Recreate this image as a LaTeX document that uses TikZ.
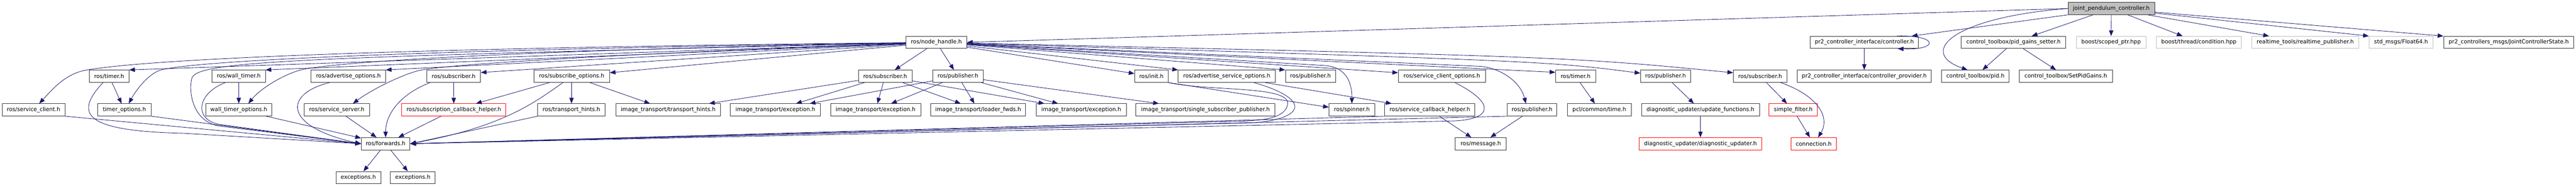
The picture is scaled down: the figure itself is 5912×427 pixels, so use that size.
\documentclass[tikz,border=0pt]{standalone}
\usepackage{fontspec}
\setmainfont{DejaVu Sans}
\usetikzlibrary{arrows.meta}
\definecolor{edgeblue}{HTML}{191970}
\definecolor{nodocgrey}{HTML}{BFBFBF}
\begin{document}
\begin{tikzpicture}[x=1pt,y=-1pt,>={Triangle[length=13pt,width=10pt]},
  hdr/.style={draw=black!80,line width=1pt,fill=white,minimum height=28pt,inner sep=0pt,font=\fontsize{12.7}{15}\selectfont},
  mainhdr/.style={hdr,fill=nodocgrey},
  nodochdr/.style={hdr,draw=nodocgrey},
  parthdr/.style={hdr,draw=red},
  dep/.style={->,draw=edgeblue,line width=1pt}]
\useasboundingbox (0,0) rectangle (5912,427);
\node[mainhdr,minimum width=199pt] (jpc) at (4845.5,19.5) {joint\_pendulum\_controller.h};
\node[hdr,minimum width=140pt] (nh) at (2149,97) {ros/node\_handle.h};
\node[hdr,minimum width=249pt] (ctrl) at (4278.5,97) {pr2\_controller\_interface/controller.h};
\node[hdr,minimum width=240pt] (pgs) at (4621,97) {control\_toolbox/pid\_gains\_setter.h};
\node[nodochdr,minimum width=160pt] (scp) at (4845,97) {boost/scoped\_ptr.hpp};
\node[nodochdr,minimum width=195pt] (cond) at (5046.5,97) {boost/thread/condition.hpp};
\node[nodochdr,minimum width=247pt] (rtp) at (5290.5,97) {realtime\_tools/realtime\_publisher.h};
\node[nodochdr,minimum width=147pt] (f64) at (5510.5,97) {std\_msgs/Float64.h};
\node[hdr,minimum width=299pt] (jcs) at (5757.5,97) {pr2\_controllers\_msgs/JointControllerState.h};
\node[hdr,minimum width=91pt] (tmr) at (250.5,174.5) {ros/timer.h};
\node[hdr,minimum width=122pt] (wtmr) at (548,174.5) {ros/wall\_timer.h};
\node[hdr,minimum width=171pt] (advo) at (799.5,174.5) {ros/advertise\_options.h};
\node[hdr,minimum width=124pt] (sub) at (1041,174.5) {ros/subscriber.h};
\node[hdr,minimum width=174pt] (subo) at (1312,174.5) {ros/subscribe\_options.h};
\node[hdr,minimum width=123pt] (itsub) at (2031.5,174.5) {ros/subscriber.h};
\node[hdr,minimum width=115pt] (itpub) at (2198.5,174.5) {ros/publisher.h};
\node[hdr,minimum width=77pt] (init) at (2642.5,174.5) {ros/init.h};
\node[hdr,minimum width=223pt] (advso) at (2815.5,174.5) {ros/advertise\_service\_options.h};
\node[hdr,minimum width=115pt] (pub) at (3007.5,174.5) {ros/publisher.h};
\node[hdr,minimum width=200pt] (srvco) at (3309,174.5) {ros/service\_client\_options.h};
\node[hdr,minimum width=92pt] (pcltmr) at (3616,174.5) {ros/timer.h};
\node[hdr,minimum width=115pt] (dupub) at (3822.5,174.5) {ros/publisher.h};
\node[hdr,minimum width=123pt] (mfsub) at (4039.5,174.5) {ros/subscriber.h};
\node[hdr,minimum width=307pt] (prov) at (4278.5,174.5) {pr2\_controller\_interface/controller\_provider.h};
\node[hdr,minimum width=155pt] (pid) at (4533.5,174.5) {control\_toolbox/pid.h};
\node[hdr,minimum width=214pt] (spg) at (4741,174.5) {control\_toolbox/SetPidGains.h};
\node[hdr,minimum width=144pt] (srvc) at (77,251.5) {ros/service\_client.h};
\node[hdr,minimum width=123pt] (tmro) at (285.5,251.5) {timer\_options.h};
\node[hdr,minimum width=152pt] (wtmro) at (548,251.5) {wall\_timer\_options.h};
\node[hdr,minimum width=150pt] (srvs) at (773,251.5) {ros/service\_server.h};
\node[parthdr,minimum width=239pt] (scbh) at (1041.5,251.5) {ros/subscription\_callback\_helper.h};
\node[hdr,minimum width=155pt] (th) at (1311.5,251.5) {ros/transport\_hints.h};
\node[hdr,minimum width=241pt] (itth) at (1533.5,251.5) {image\_transport/transport\_hints.h};
\node[hdr,minimum width=207pt] (itexa) at (1779.5,251.5) {image\_transport/exception.h};
\node[hdr,minimum width=207pt] (itexb) at (2009.5,251.5) {image\_transport/exception.h};
\node[hdr,minimum width=218pt] (itlf) at (2245,251.5) {image\_transport/loader\_fwds.h};
\node[hdr,minimum width=207pt] (itexc) at (2481.5,251.5) {image\_transport/exception.h};
\node[hdr,minimum width=319pt] (itssp) at (2766.5,251.5) {image\_transport/single\_subscriber\_publisher.h};
\node[hdr,minimum width=105pt] (spin) at (3102.5,251.5) {ros/spinner.h};
\node[hdr,minimum width=207pt] (srvcb) at (3281.5,251.5) {ros/service\_callback\_helper.h};
\node[hdr,minimum width=114pt] (pubb) at (3516,251.5) {ros/publisher.h};
\node[hdr,minimum width=147pt] (time) at (3670.5,251.5) {pcl/common/time.h};
\node[hdr,minimum width=271pt] (upd) at (3902.5,251.5) {diagnostic\_updater/update\_functions.h};
\node[parthdr,minimum width=111pt] (sflt) at (4115.5,251.5) {simple\_filter.h};
\node[hdr,minimum width=112pt] (fwd) at (885,329) {ros/forwards.h};
\node[hdr,minimum width=117pt] (msg) at (3398.5,329) {ros/message.h};
\node[parthdr,minimum width=281pt] (diag) at (3902.5,329) {diagnostic\_updater/diagnostic\_updater.h};
\node[parthdr,minimum width=105pt] (conn) at (4162.5,329) {connection.h};
\node[hdr,minimum width=103pt] (exa) at (822.5,406.5) {exceptions.h};
\node[hdr,minimum width=103pt] (exb) at (947.5,406.5) {exceptions.h};
\draw[dep] (jpc.west) -- (nh.east);
\draw[dep] (jpc.south west) -- ([xshift=-16pt]ctrl.north east);
\draw[dep] (jpc.west) .. controls (4480,40) and (4400,120) .. ([xshift=-18pt]pid.north);
\draw[dep] (jpc) -- (pgs); \draw[dep] (jpc) -- (scp); \draw[dep] (jpc) -- (cond); \draw[dep] (jpc) -- (rtp);
\draw[dep] (jpc) -- (f64.north west); \draw[dep] (jpc) -- (jcs.north west);
\draw[dep] (pgs) -- (pid); \draw[dep] (pgs) -- (spg);
\draw[dep] (ctrl) -- (prov);
\draw[dep] ([xshift=-50pt]ctrl.north east) .. controls (4450,80) and (4450,115) .. ([xshift=-48pt]ctrl.south east);
\draw[dep] (nh) .. controls (900,110) and (350,135) .. (200,160) .. controls (150,168) and (120,205) .. ([xshift=13pt]srvc.north);
\draw[dep] (nh) -- (tmr.north east);
\draw[dep] (nh) .. controls (900,115) and (450,140) .. (370,160) .. controls (340,168) and (310,210) .. ([xshift=10pt]tmro.north);
\draw[dep] (nh) .. controls (650,132) and (450,140) .. (440,180) .. controls (433,208) and (440,275) .. (500,288) -- (fwd.west);
\draw[dep] (nh) -- (wtmr.north east);
\draw[dep] (nh) .. controls (1200,115) and (800,140) .. (700,158) .. controls (660,165) and (600,200) .. ([xshift=22pt]wtmro.north);
\draw[dep] (nh) -- (advo.north east);
\draw[dep] (nh) .. controls (1500,120) and (1050,145) .. (968,160) .. controls (935,166) and (860,200) .. ([xshift=37pt]srvs.north);
\draw[dep] (nh) -- ([yshift=8.5pt]sub.east); \draw[dep] (nh) -- (subo);
\draw[dep] (nh) -- (itsub); \draw[dep] (nh) -- (itpub);
\draw[dep] (nh) -- (init); \draw[dep] (nh) -- (advso.north west); \draw[dep] (nh) -- (pub.north west);
\draw[dep] (nh) -- (3040,150) .. controls (3090,153) and (3103,190) .. (spin.north);
\draw[dep] (nh) -- ([yshift=8pt]srvco.west);
\draw[dep] (nh) -- (3400,152) .. controls (3450,158) and (3490,190) .. ([xshift=-14pt]pubb.north);
\draw[dep] (nh) -- ([yshift=9pt]pcltmr.west);
\draw[dep] (nh) .. controls (3550,140) .. ([yshift=7pt]dupub.west);
\draw[dep] (nh) .. controls (3600,130) .. ([yshift=8pt]mfsub.west);
\draw[dep] (tmr) -- (tmro);
\draw[dep] ([xshift=-14pt]tmr.south) .. controls (170,260) and (190,300) .. (420,305) -- (fwd.west);
\draw[dep] (srvc.south east) -- (fwd.west);
\draw[dep] (tmro.south east) -- (fwd.west);
\draw[dep] (wtmr) -- (wtmro);
\draw[dep] ([xshift=-31pt]wtmr.south) .. controls (450,215) and (445,275) .. (505,285) -- (fwd.west);
\draw[dep] (wtmro) -- (fwd);
\draw[dep] ([xshift=-43pt]advo.south) .. controls (650,215) and (650,290) .. (fwd.west);
\draw[dep] (srvs) -- (fwd);
\draw[dep] (sub) -- (scbh);
\draw[dep] ([xshift=-54pt]sub.south) .. controls (920,215) and (885,260) .. (fwd.north);
\draw[dep] (scbh) -- (fwd);
\draw[dep] (fwd) -- (exa); \draw[dep] (fwd) -- (exb);
\draw[dep] (subo) -- (scbh); \draw[dep] (subo) -- (th); \draw[dep] (subo) -- (itth);
\draw[dep] ([xshift=-20pt]subo.south) .. controls (1220,240) and (1150,290) .. (fwd.east);
\draw[dep] (th.south west) -- (fwd.east);
\draw[dep] (itsub) -- (itth); \draw[dep] (itsub) -- (itexa); \draw[dep] (itsub) -- (itexb); \draw[dep] (itsub) -- (itlf); \draw[dep] (itsub) -- (itexc);
\draw[dep] (itpub) -- (itexa); \draw[dep] (itpub) -- (itexb); \draw[dep] (itpub) -- (itlf); \draw[dep] (itpub) -- (itexc); \draw[dep] (itpub) -- (itssp);
\draw[dep] (init.south east) .. controls (2780,210) and (2965,195) .. (2955,240) .. controls (2948,268) and (2910,274) .. (2860,277) -- (fwd.east);
\draw[dep] (init.south east) -- ([yshift=6pt]spin.west);
\draw[dep] ([xshift=62pt]advso.south) .. controls (3005,225) and (3000,270) .. (2880,281) -- (fwd.east);
\draw[dep] (advso) -- (srvcb);
\draw[dep] ([xshift=30pt]srvco.south) .. controls (3440,240) and (3420,275) .. (3330,277) -- (fwd.east);
\draw[dep] (srvcb) -- (msg); \draw[dep] (srvcb.south west) -- (fwd.east);
\draw[dep] (pubb) -- (msg); \draw[dep] (pubb.south west) -- (fwd.east);
\draw[dep] (pcltmr) -- (time);
\draw[dep] (dupub) -- (upd); \draw[dep] (upd) -- (diag);
\draw[dep] (mfsub) -- (sflt); \draw[dep] (sflt) -- (conn);
\draw[dep] ([xshift=-15pt]mfsub.south east) .. controls (4175,220) and (4200,270) .. ([xshift=10pt]conn.north);
\end{tikzpicture}
\end{document}
